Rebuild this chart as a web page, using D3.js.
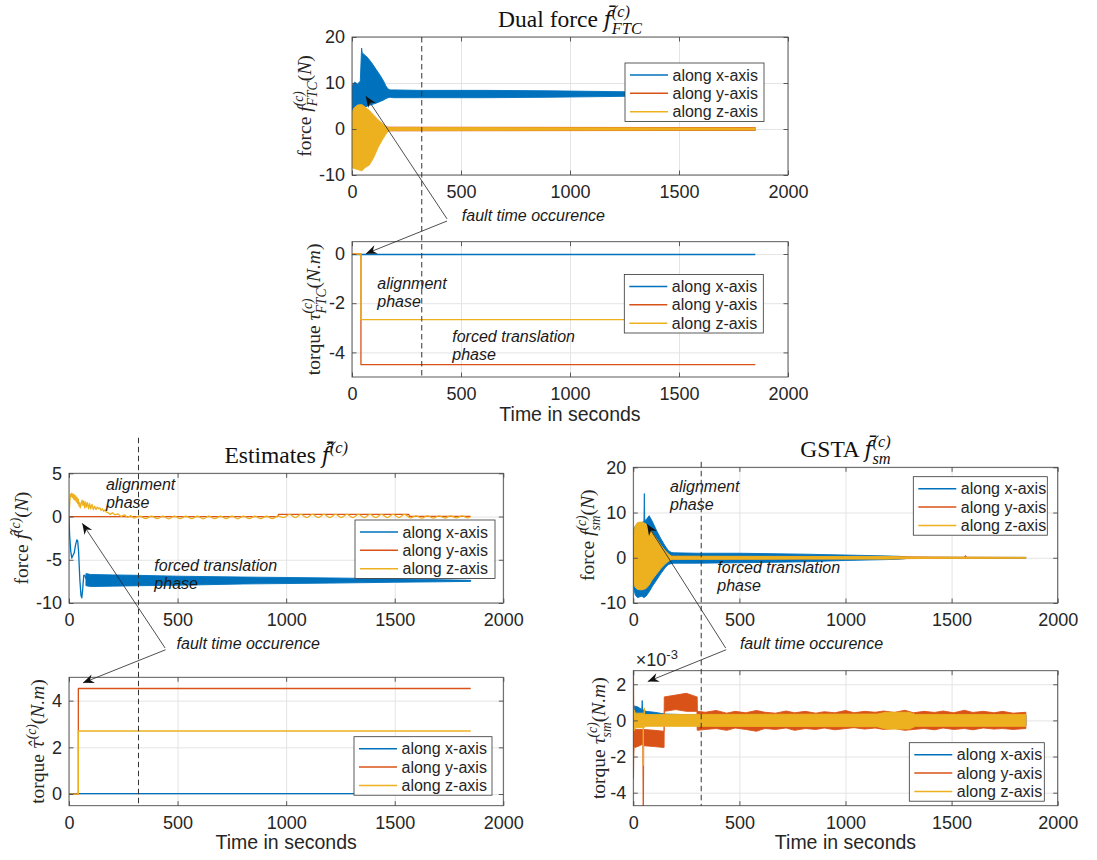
<!DOCTYPE html>
<html>
<head>
<meta charset="utf-8">
<script src="https://cdn.jsdelivr.net/npm/d3@7"></script>
<style>
  html, body { margin: 0; padding: 0; background: #fff; }
  svg { display: block; }
</style>
</head>
<body>
<svg id="fig" width="1097" height="860"></svg>
<script>
// ---------- shared axis values ----------
const timeDomain = [0, 2000];
const timeTicks = [0, 500, 1000, 1500, 2000];
const seriesNames = ["along x-axis", "along y-axis", "along z-axis"];
const seriesColors = ["#0072BD", "#D95319", "#EDB120"];
const faultTime = 320;           // s, fault occurrence
const torqueExponent = -3;       // GSTA torque is shown in units of 10^-3 N.m

// ---------- Dual force f_FTC (N): dense oscillations given as envelopes ----------
const dfYTicks = [-10, 0, 10, 20];
const dfXT  = [0, 4, 12, 25, 38, 44, 47, 55, 70, 90, 110, 130, 145, 155, 165, 175, 190, 300, 600, 900, 1250, 1550, 1850];
const dfXUp = [9.5, 9.6, 10.2, 9.8, 10.4, 17.6, 16.6, 16.2, 15.6, 14.4, 13.0, 11.6, 10.4, 9.4, 8.7, 8.5, 8.5, 8.4, 8.4, 8.3, 8.1, 7.9, 7.8];
const dfXLo = [3.0, 3.0, 3.8, 4.2, 4.0, 4.0, 4.4, 4.6, 5.0, 5.3, 5.6, 6.0, 6.3, 6.6, 6.8, 6.9, 6.8, 6.8, 6.8, 6.9, 7.1, 7.3, 7.4];
const dfYT  = [0, 170, 1850];
const dfYUp = [0.5, 0.4, 0.3];
const dfYLo = [-0.5, -0.4, -0.3];
const dfZT  = [0, 3, 10, 25, 45, 60, 80, 100, 120, 140, 160, 170, 185, 600, 1200, 1850];
const dfZUp = [3.3, 4.0, 4.6, 5.2, 5.3, 4.8, 4.0, 3.0, 2.0, 1.2, 0.5, 0.3, 0.3, 0.3, 0.25, 0.2];
const dfZLo = [-8.0, -8.5, -8.6, -8.8, -9.1, -8.4, -7.8, -6.2, -4.0, -2.3, -0.8, -0.4, -0.3, -0.3, -0.25, -0.2];

// ---------- Dual torque tau_FTC (N.m) ----------
const dtYTicks = [-4, -2, 0];
const dtT = [0, 41, 41, 1850];
const dtX = [-0.02, -0.02, -0.02, -0.02];
const dtY = [0, 0, -4.5, -4.5];
const dtZ = [0, 0, -2.67, -2.67];

// ---------- Estimated force f^ (N) ----------
const efYTicks = [-10, -5, 0, 5];
const efXT = [0, 3, 8, 13, 18, 24, 30, 36, 40, 44, 50, 55, 59, 63, 68, 73, 78];
const efXV = [0, -2.2, -4.0, -4.8, -4.5, -4.2, -3.3, -2.7, -2.8, -4.0, -7.3, -9.1, -9.4, -8.4, -6.8, -6.8, -7.2];
const efXBandT  = [78, 100, 200, 320, 500, 800, 1000, 1200, 1500, 1700, 1850];
const efXBandUp = [-6.6, -6.7, -6.75, -6.8, -6.9, -7.0, -7.05, -7.1, -7.2, -7.3, -7.38];
const efXBandLo = [-8.0, -8.1, -8.05, -8.0, -7.95, -7.8, -7.75, -7.7, -7.6, -7.55, -7.5];
const efYT = [0, 962, 965, 1565, 1568, 1850];
const efYV = [0, 0, 0.25, 0.25, 0.02, 0.02];
const efZEarlyT = [0, 4, 7, 10, 13, 16, 19, 22, 25, 28, 31, 34, 37, 40, 43, 46, 49, 52, 56, 60, 64, 68, 72, 76, 80,
                   85, 90, 95, 100, 106, 112, 118, 124, 130, 136, 142, 148, 154, 160, 166, 172, 180, 190, 200, 212,
                   225, 240, 255, 270, 285, 300];
const efZEarlyV = [0, 1.8, 2.6, 2.3, 2.7, 2.2, 2.6, 2.0, 2.5, 1.9, 2.4, 1.7, 2.2, 1.5, 2.0, 1.2, 1.6, 1.0, 1.5, 1.9,
                   1.3, 1.8, 1.0, 1.7, 1.1, 1.6, 0.9, 1.5, 0.9, 1.4, 0.8, 1.2, 0.8, 1.1, 0.9, 1.0, 0.7, 0.9, 0.6,
                   0.8, 0.5, 0.45, 0.25, 0.45, 0.2, 0.3, 0.0, 0.2, -0.1, 0.1, -0.2];
// residual ripple of the z estimate: successive crests and troughs [t, value]
const efZRipple = [
  [300, -0.2], [326, 0.05], [353, -0.25], [379, 0.05], [406, -0.25], [432, 0.04], [459, -0.26], [485, 0.05],
  [512, -0.25], [538, 0.04], [565, -0.25], [591, 0.05], [618, -0.26], [644, 0.04], [671, -0.25], [697, 0.05],
  [724, -0.25], [750, 0.04], [777, -0.26], [803, 0.05], [830, -0.25], [856, 0.04], [883, -0.25], [909, 0.05],
  [936, -0.24], [962, 0.05], [989, -0.12], [1015, 0.25], [1042, -0.12], [1068, 0.24], [1095, -0.13], [1121, 0.25],
  [1148, -0.12], [1174, 0.24], [1201, -0.12], [1227, 0.25], [1254, -0.13], [1280, 0.24], [1307, -0.12], [1333, 0.25],
  [1360, -0.12], [1386, 0.24], [1413, -0.13], [1439, 0.25], [1466, -0.12], [1492, 0.24], [1519, -0.12], [1545, 0.25],
  [1572, -0.15], [1598, 0.08], [1625, -0.18], [1651, 0.08], [1678, -0.18], [1704, 0.07], [1731, -0.17], [1757, 0.08],
  [1784, -0.16], [1810, 0.07], [1837, -0.15], [1850, 0.0]
];

// ---------- Estimated torque tau^ (N.m) ----------
const etYTicks = [0, 2, 4];
const etT = [0, 43, 43, 1850];
const etX = [0.02, 0.02, 0.02, 0.02];
const etY = [0, 0, 4.52, 4.52];
const etZ = [0, 0, 2.7, 2.7];

// ---------- GSTA force f_sm (N) ----------
const gfYTicks = [-10, 0, 10, 20];
const gfXT  = [0, 3, 10, 20, 40, 50, 52, 54, 60, 75, 90, 110, 130, 150, 165, 178, 190, 300, 500, 800, 1000, 1200, 1260, 1300, 1850];
const gfXUp = [2.0, 6.5, 7.0, 7.5, 7.8, 8.0, 14.2, 8.2, 8.4, 9.3, 8.0, 6.0, 4.2, 2.6, 1.6, 1.2, 1.1, 1.0, 1.0, 0.8, 0.6, 0.4, 0.3, 0.1, 0.08];
const gfXLo = [-2.0, -7.0, -8.3, -8.8, -8.5, -8.8, -8.8, -8.6, -8.5, -7.5, -6.3, -4.9, -3.5, -2.2, -1.5, -1.3, -1.2, -1.2, -1.1, -0.9, -0.6, -0.4, -0.3, -0.1, -0.08];
const gfYT  = [0, 180, 1250, 1560, 1565, 1572, 1850];
const gfYUp = [0.5, 0.3, 0.2, 0.1, 0.5, 0.1, 0.06];
const gfYLo = [-0.5, -0.3, -0.2, -0.1, -0.1, -0.1, -0.06];
const gfZT  = [0, 3, 8, 20, 40, 60, 75, 90, 110, 130, 150, 165, 178, 186, 300, 800, 1200, 1300, 1850];
const gfZUp = [1.0, 5.0, 7.0, 7.8, 7.9, 7.5, 6.8, 5.5, 4.2, 2.8, 1.6, 0.9, 0.4, 0.35, 0.35, 0.3, 0.3, 0.15, 0.1];
const gfZLo = [-1.0, -5.5, -6.5, -7.0, -7.1, -6.8, -6.0, -4.8, -3.6, -2.4, -1.4, -0.8, -0.4, -0.35, -0.35, -0.3, -0.3, -0.15, -0.1];

// ---------- GSTA torque tau_sm (10^-3 N.m) ----------
const gtYTicks = [-4, -2, 0, 2];
const gtXT  = [0, 3, 5, 20, 40, 42, 44, 60, 100, 150, 300, 1850];
const gtXUp = [0.0, 0.3, 0.8, 0.75, 0.6, 1.1, 0.6, 0.5, 0.45, 0.35, 0.3, 0.3];
const gtXLo = [-0.3, -0.3, 0.3, 0.35, 0.3, 0.3, 0.3, 0.2, 0.1, -0.1, -0.3, -0.3];
const gtYT  = [0, 1, 2, 4, 8, 30, 45, 46, 48, 49, 100, 144, 145, 146, 200, 250, 300, 301, 302,
               340, 390, 440, 480, 530, 580, 620, 670, 720, 760, 810, 860, 900, 950, 1000, 1040, 1090,
               1140, 1180, 1230, 1280, 1320, 1370, 1420, 1460, 1510, 1560, 1600, 1650, 1700, 1740, 1790, 1850];
const gtYUp = [2.8, 2.8, 1.0, -0.3, -0.5, -0.5, -0.5, -0.5, -0.5, -0.5, -0.55, -0.6, -0.6, 1.3, 1.4, 1.5, 1.3, 1.3, 0.5,
               0.45, 0.55, 0.4, 0.5, 0.42, 0.55, 0.45, 0.4, 0.52, 0.42, 0.5, 0.4, 0.48, 0.42, 0.55, 0.42, 0.5,
               0.45, 0.52, 0.44, 0.56, 0.42, 0.5, 0.44, 0.52, 0.42, 0.56, 0.44, 0.5, 0.42, 0.5, 0.4, 0.45];
const gtYLo = [-3.2, -3.2, -2.0, -1.4, -1.5, -1.4, -1.3, -4.8, -4.8, -1.4, -1.45, -1.5, -1.5, 0.5, 0.6, 0.5, 0.5, -0.5, -0.55,
               -0.5, -0.45, -0.55, -0.42, -0.5, -0.6, -0.45, -0.5, -0.42, -0.55, -0.45, -0.5, -0.42, -0.52, -0.45, -0.4, -0.48,
               -0.42, -0.5, -0.45, -0.55, -0.5, -0.45, -0.52, -0.42, -0.5, -0.45, -0.52, -0.42, -0.48, -0.45, -0.5, -0.45];
const gtZT  = [0, 3, 10, 40, 46, 47, 48, 50, 52, 54, 100, 150, 300, 1150, 1190, 1300, 1330, 1850];
const gtZUp = [0.6, 0.6, 0.4, 0.4, 0.4, 0.4, 0.4, 0.4, 0.7, 0.33, 0.33, 0.33, 0.33, 0.35, 0.45, 0.45, 0.33, 0.33];
const gtZLo = [-0.6, -0.6, -0.4, -0.4, -0.4, -2.5, -0.4, -0.4, -0.4, -0.33, -0.33, -0.33, -0.33, -0.35, -0.48, -0.48, -0.33, -0.33];

// ---------- styling ----------
const fontSans = '"Liberation Sans", Arial, Helvetica, sans-serif';
const fontSerif = '"Liberation Serif", "Times New Roman", serif';
const fontAccent = '"DejaVu Serif", "Liberation Serif", serif';   // good combining-mark placement
const axisColor = "#4a4a4a";
const textColor = "#262626";
const gridColor = "#e4e4e4";

const svg = d3.select("#fig");
const W = 1097, H = 860;
svg.append("rect").attr("width", W).attr("height", H).attr("fill", "#fff");

const defs = svg.append("defs");
defs.append("marker")
  .attr("id", "dart").attr("viewBox", "-12 -6 14 12")
  .attr("refX", 0).attr("refY", 0)
  .attr("markerWidth", 14).attr("markerHeight", 12)
  .attr("markerUnits", "userSpaceOnUse").attr("orient", "auto")
  .append("path").attr("d", "M0,0 L-11,-4.6 L-7.5,0 L-11,4.6 Z").attr("fill", "#111");

// Writes LaTeX-like text (italic symbols, accents, sub/superscripts) as tspans.
function mathText(textSel, parts, size) {
  let base = 0, lastSup = null;
  parts.forEach(p => {
    const ts = textSel.append("tspan").text(p.s);
    const off = p.sup ? -0.42 * size : p.sub ? 0.3 * size : 0;
    ts.attr("dy", off - base);
    base = off;
    if (p.it) ts.attr("font-style", "italic");
    if (p.acc) ts.attr("font-family", fontAccent).attr("font-size", (0.92 * size).toFixed(1));
    if (p.sup || p.sub) ts.attr("font-size", (0.7 * size).toFixed(1));
    if (p.sub && lastSup) ts.attr("dx", -lastSup.node().getComputedTextLength());
    lastSup = p.sup ? ts : null;
  });
}

const panels = [
  {
    key: "dualForce", box: {left: 352, top: 37, width: 436, height: 138},
    yDomain: [-10, 20], yTicks: dfYTicks,
    marks: [
      {kind: "band", c: 0, t: dfXT, up: dfXUp, lo: dfXLo},
      {kind: "band", c: 1, t: dfYT, up: dfYUp, lo: dfYLo},
      {kind: "band", c: 2, t: dfZT, up: dfZUp, lo: dfZLo}
    ],
    legend: {x: 625, y: 63, w: 139},
    title: [{s: "Dual force "}, {s: "f\u0304", it: true, acc: true}, {s: "(c)", sup: true, it: true}, {s: "FTC", sub: true, it: true}],
    ylabel: [{s: "force "}, {s: "f", it: true}, {s: "(c)", sup: true, it: true}, {s: "FTC", sub: true, it: true},
             {s: "("}, {s: "N", it: true}, {s: ")"}],
    ylabelGap: 41
  },
  {
    key: "dualTorque", box: {left: 352, top: 241.7, width: 436, height: 135.3},
    yDomain: [-5, 0.5], yTicks: dtYTicks,
    marks: [
      {kind: "line", c: 0, t: dtT, v: dtX},
      {kind: "line", c: 1, t: dtT, v: dtY},
      {kind: "line", c: 2, t: dtT, v: dtZ}
    ],
    legend: {x: 624.3, y: 274.5, w: 139},
    ylabel: [{s: "torque "}, {s: "\u03C4", it: true}, {s: "(c)", sup: true, it: true}, {s: "FTC", sub: true, it: true},
             {s: "("}, {s: "N.m", it: true}, {s: ")"}],
    ylabelGap: 32, xlabel: true,
    notes: [
      {t: 116, v: -1.42, lines: ["alignment", "phase"]},
      {t: 460, v: -3.56, lines: ["forced translation", "phase"]}
    ]
  },
  {
    key: "estForce", box: {left: 69, top: 473.3, width: 434.3, height: 129.7},
    yDomain: [-10, 5], yTicks: efYTicks,
    marks: [
      {kind: "line", c: 0, t: efXT, v: efXV},
      {kind: "band", c: 0, t: efXBandT, up: efXBandUp, lo: efXBandLo},
      {kind: "line", c: 1, t: efYT, v: efYV},
      {kind: "line", c: 2, t: efZEarlyT, v: efZEarlyV},
      {kind: "smooth", c: 2, pts: efZRipple}
    ],
    legend: {x: 355, y: 520, w: 140},
    title: [{s: "Estimates "}, {s: "f\u0302\u0304", it: true, acc: true}, {s: "(c)", sup: true, it: true}],
    ylabel: [{s: "force "}, {s: "f\u0302", it: true, acc: true}, {s: "(c)", sup: true, it: true}, {s: "("}, {s: "N", it: true}, {s: ")"}],
    ylabelGap: 41,
    notes: [
      {t: 170, v: 3.07, lines: ["alignment", "phase"]},
      {t: 393, v: -6.35, lines: ["forced translation", "phase"]}
    ]
  },
  {
    key: "estTorque", box: {left: 69, top: 677.3, width: 434.3, height: 128.4},
    yDomain: [-0.5, 5], yTicks: etYTicks,
    marks: [
      {kind: "line", c: 0, t: etT, v: etX},
      {kind: "line", c: 1, t: etT, v: etY},
      {kind: "line", c: 2, t: etT, v: etZ}
    ],
    legend: {x: 354, y: 736.7, w: 138},
    ylabel: [{s: "torque "}, {s: "\u03C4\u0302", it: true, acc: true}, {s: "(c)", sup: true, it: true}, {s: "("}, {s: "N.m", it: true}, {s: ")"}],
    ylabelGap: 25, xlabel: true
  },
  {
    key: "gstaForce", box: {left: 633.3, top: 467.3, width: 424.4, height: 135.7},
    yDomain: [-10, 20], yTicks: gfYTicks,
    marks: [
      {kind: "band", c: 0, t: gfXT, up: gfXUp, lo: gfXLo},
      {kind: "band", c: 1, t: gfYT, up: gfYUp, lo: gfYLo},
      {kind: "band", c: 2, t: gfZT, up: gfZUp, lo: gfZLo}
    ],
    legend: {x: 913.3, y: 476.7, w: 134},
    title: [{s: "GSTA "}, {s: "f\u0304", it: true, acc: true}, {s: "(c)", sup: true, it: true}, {s: "sm", sub: true, it: true}],
    ylabel: [{s: "force "}, {s: "f", it: true}, {s: "(c)", sup: true, it: true}, {s: "sm", sub: true, it: true},
             {s: "("}, {s: "N", it: true}, {s: ")"}],
    ylabelGap: 39,
    notes: [
      {t: 173, v: 14.6, lines: ["alignment", "phase"]},
      {t: 396, v: -3.43, lines: ["forced translation", "phase"]}
    ]
  },
  {
    key: "gstaTorque", box: {left: 633.3, top: 670.7, width: 424.4, height: 135},
    yDomain: [-4.72, 2.75], yTicks: gtYTicks,
    marks: [
      {kind: "band", c: 0, t: gtXT, up: gtXUp, lo: gtXLo},
      {kind: "band", c: 1, t: gtYT, up: gtYUp, lo: gtYLo},
      {kind: "band", c: 2, t: gtZT, up: gtZUp, lo: gtZLo}
    ],
    legend: {x: 909.3, y: 742.7, w: 135},
    ylabel: [{s: "torque "}, {s: "\u03C4", it: true}, {s: "(c)", sup: true, it: true}, {s: "sm", sub: true, it: true},
             {s: "("}, {s: "N.m", it: true}, {s: ")"}],
    ylabelGap: 28, xlabel: true, exponent: torqueExponent
  }
];

const scales = {};

function drawPanel(p) {
  const {left, top, width, height} = p.box;
  const g = svg.append("g").attr("transform", `translate(${left},${top})`);
  const x = d3.scaleLinear().domain(timeDomain).range([0, width]);
  const y = d3.scaleLinear().domain(p.yDomain).range([height, 0]);
  scales[p.key] = {x, y};

  // grid
  const gx = g.append("g").call(d3.axisBottom(x).tickValues(timeTicks).tickSize(height).tickFormat(""));
  const gy = g.append("g").call(d3.axisLeft(y).tickValues(p.yTicks).tickSize(-width).tickFormat(""));
  [gx, gy].forEach(s => {
    s.select(".domain").remove();
    s.selectAll("line").attr("stroke", gridColor).attr("stroke-width", 1);
  });

  // data
  const clipId = "clip-" + p.key;
  defs.append("clipPath").attr("id", clipId).append("rect").attr("width", width).attr("height", height);
  const plot = g.append("g").attr("clip-path", `url(#${clipId})`);
  p.marks.forEach(m => {
    const col = seriesColors[m.c];
    if (m.kind === "band") {
      const area = d3.area().x((d, i) => x(m.t[i])).y0((d, i) => y(m.lo[i])).y1((d, i) => y(m.up[i]));
      plot.append("path").attr("d", area(m.t)).attr("fill", col)
        .attr("stroke", col).attr("stroke-width", 0.9).attr("stroke-linejoin", "round");
    } else if (m.kind === "line") {
      const line = d3.line().x((d, i) => x(m.t[i])).y((d, i) => y(m.v[i]));
      plot.append("path").attr("d", line(m.t)).attr("fill", "none")
        .attr("stroke", col).attr("stroke-width", 1.3).attr("stroke-linejoin", "round");
    } else if (m.kind === "smooth") {
      const line = d3.line().x(d => x(d[0])).y(d => y(d[1])).curve(d3.curveMonotoneX);
      plot.append("path").attr("d", line(m.pts)).attr("fill", "none")
        .attr("stroke", col).attr("stroke-width", 1.3);
    }
  });

  // box and inward ticks on all sides
  const tick = 4.5;
  const axB = g.append("g").attr("transform", `translate(0,${height})`)
    .call(d3.axisBottom(x).tickValues(timeTicks).tickSize(-tick).tickPadding(10.5).tickFormat(d3.format("d")));
  const axT = g.append("g").call(d3.axisTop(x).tickValues(timeTicks).tickSize(-tick).tickFormat(""));
  const axL = g.append("g")
    .call(d3.axisLeft(y).tickValues(p.yTicks).tickSize(-tick).tickPadding(7).tickFormat(d3.format("d")));
  const axR = g.append("g").attr("transform", `translate(${width},0)`)
    .call(d3.axisRight(y).tickValues(p.yTicks).tickSize(-tick).tickFormat(""));
  [axB, axT, axL, axR].forEach(s => {
    s.select(".domain").remove();
    s.selectAll("line").attr("stroke", axisColor).attr("stroke-width", 0.9);
    s.attr("font-family", fontSans).attr("font-size", 18);
    s.selectAll("text").attr("fill", textColor);
  });
  axL.selectAll("text").text(d => d < 0 ? "-" + Math.abs(d) : d);
  g.append("rect").attr("width", width).attr("height", height)
    .attr("fill", "none").attr("stroke", axisColor).attr("stroke-width", 0.9);

  // phase notes in data coordinates
  (p.notes || []).forEach(n => {
    const t = g.append("text").attr("x", x(n.t)).attr("y", y(n.v))
      .attr("font-family", fontSans).attr("font-size", 16).attr("font-style", "italic").attr("fill", "#1a1a1a");
    n.lines.forEach((s, i) => t.append("tspan").attr("x", x(n.t)).attr("dy", i ? 18 : 0).text(s));
  });

  // legend
  const L = p.legend;
  const lg = svg.append("g").attr("transform", `translate(${L.x},${L.y})`);
  lg.append("rect").attr("width", L.w).attr("height", 58.5)
    .attr("fill", "#fff").attr("stroke", "#333").attr("stroke-width", 0.8);
  const rowY = [12, 30.3, 48.8];
  seriesNames.forEach((name, i) => {
    lg.append("line").attr("x1", 5).attr("x2", 43).attr("y1", rowY[i]).attr("y2", rowY[i])
      .attr("stroke", seriesColors[i]).attr("stroke-width", 1.6);
    lg.append("text").attr("x", 47.5).attr("y", rowY[i]).attr("dy", "0.35em")
      .attr("font-family", fontSans).attr("font-size", 16).attr("fill", textColor).text(name);
  });

  // title
  if (p.title) {
    const t = svg.append("text").attr("x", left + width / 2).attr("y", top - 10.5)
      .attr("text-anchor", "middle").attr("font-family", fontSerif).attr("font-size", 23.5).attr("fill", "#111");
    mathText(t, p.title, 23.5);
  }
  // y label
  const yl = svg.append("text")
    .attr("transform", `translate(${left - p.ylabelGap},${top + height / 2}) rotate(-90)`)
    .attr("text-anchor", "middle").attr("font-family", fontSerif).attr("font-size", 19.5).attr("fill", textColor);
  mathText(yl, p.ylabel, 19.5);
  // x label
  if (p.xlabel) {
    svg.append("text").attr("x", left + width / 2).attr("y", top + height + 43.5)
      .attr("text-anchor", "middle").attr("font-family", fontSans).attr("font-size", 19.5)
      .attr("fill", textColor).text("Time in seconds");
  }
  // axis exponent
  if (p.exponent !== undefined) {
    const e = svg.append("text").attr("x", left + 2.5).attr("y", top - 4.5)
      .attr("font-family", fontSans).attr("font-size", 18).attr("fill", textColor);
    e.append("tspan").text("\u00D710");
    e.append("tspan").attr("dy", -7).attr("font-size", 13).text("-" + Math.abs(p.exponent));
  }
}

panels.forEach(drawPanel);

// ---------- fault-time markers spanning each pair of axes ----------
const byKey = Object.fromEntries(panels.map(p => [p.key, p]));
function faultLine(upperKey, lowerKey, yTop) {
  const up = byKey[upperKey].box, lo = byKey[lowerKey].box;
  const xp = up.left + scales[upperKey].x(faultTime);
  svg.append("line").attr("x1", xp).attr("x2", xp)
    .attr("y1", yTop === undefined ? up.top : yTop).attr("y2", lo.top + lo.height)
    .attr("stroke", "#333").attr("stroke-width", 1).attr("stroke-dasharray", "5.5,3.5");
}
faultLine("dualForce", "dualTorque");
faultLine("estForce", "estTorque", 0.509 * H);
faultLine("gstaForce", "gstaTorque", 0.537 * H);

// ---------- text arrows (normalized figure units) ----------
const faultNotes = [
  {text: [0.421, 0.257], tail1: [0.4075, 0.2545], head1: [0.3335, 0.112], tail2: [0.4075, 0.257], head2: [0.3335, 0.295]},
  {text: [0.161, 0.7545], tail1: [0.1505, 0.7535], head1: [0.0750, 0.6085], tail2: [0.151, 0.7555], head2: [0.0757, 0.794]},
  {text: [0.6745, 0.7545], tail1: [0.6615, 0.7535], head1: [0.5898, 0.6095], tail2: [0.662, 0.7555], head2: [0.5905, 0.7925]}
];
faultNotes.forEach(a => {
  [[a.tail1, a.head1], [a.tail2, a.head2]].forEach(([t, h]) => {
    svg.append("line")
      .attr("x1", t[0] * W).attr("y1", t[1] * H).attr("x2", h[0] * W).attr("y2", h[1] * H)
      .attr("stroke", "#222").attr("stroke-width", 0.8).attr("marker-end", "url(#dart)");
  });
  svg.append("text").attr("x", a.text[0] * W).attr("y", a.text[1] * H)
    .attr("font-family", fontSans).attr("font-size", 16).attr("font-style", "italic").attr("fill", "#1a1a1a")
    .text("fault time occurence");
});
</script>
</body>
</html>
